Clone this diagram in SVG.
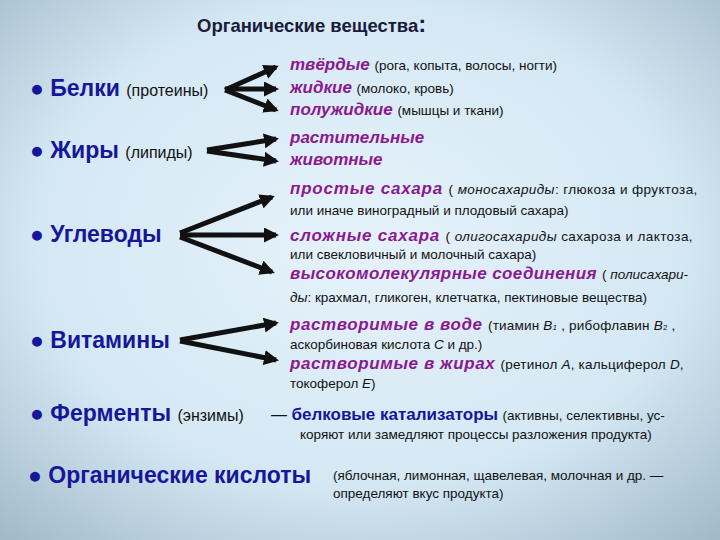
<svg xmlns="http://www.w3.org/2000/svg" width="720" height="540" viewBox="0 0 720 540">
<defs>
<radialGradient id="bg" cx="0.5" cy="0.45" r="0.75">
<stop offset="0" stop-color="#e6f2fa"/><stop offset="0.6" stop-color="#d4e8f4"/><stop offset="1" stop-color="#9fb8c8"/>
</radialGradient>
<marker id="ah" viewBox="0 0 10 10" refX="8" refY="5" markerWidth="3" markerHeight="3" orient="auto" markerUnits="strokeWidth">
<path d="M0,0 L10,5 L0,10 z" fill="#111"/></marker>
<style>
text{font-family:"Liberation Sans",Arial,sans-serif;fill:#111}
.m{font-size:23px;font-weight:bold;fill:#16169a}
.p{font-size:16px}
.h{font-size:17px;font-weight:bold;font-style:italic;fill:#8a1a8e}
.s{font-size:13.5px}
.i{font-style:italic}
.c line{stroke:#111;stroke-width:5;marker-end:url(#ah)}
</style>
</defs>
<rect width="720" height="540" fill="url(#bg)"/>
<text x="197" y="32" style="font-size:18.5px;font-weight:bold;fill:#1a1a3a">Органические вещества<tspan font-size="24">:</tspan></text>
<g class="c">
<line x1="225" y1="90" x2="276" y2="67"/>
<line x1="225" y1="89" x2="276" y2="89"/>
<line x1="225" y1="90" x2="276" y2="110"/>
<line x1="207" y1="150" x2="276" y2="139"/>
<line x1="207" y1="151" x2="276" y2="161"/>
<line x1="180" y1="233" x2="272" y2="197"/>
<line x1="180" y1="235" x2="276" y2="235"/>
<line x1="180" y1="237" x2="272" y2="272"/>
<line x1="180" y1="340" x2="276" y2="323"/>
<line x1="180" y1="341" x2="276" y2="360"/>
</g>
<g id="n-belki"><text x="30" y="96" class="m">● Белки <tspan class="p" font-weight="normal" style="fill:#111">(протеины)</tspan></text></g>
<g id="n-zhiry"><text x="30" y="158" class="m">●  Жиры <tspan class="p" font-weight="normal" style="fill:#111">(липиды)</tspan></text></g>
<g id="n-ugl"><text x="30" y="242" class="m">●  Углеводы</text></g>
<g id="n-vit"><text x="30" y="348" class="m">●  Витамины</text></g>
<g id="n-ferm"><text x="30" y="421" class="m">●  Ферменты <tspan class="p" font-weight="normal" style="fill:#111">(энзимы)</tspan></text>
<text x="271" y="420" class="p">— <tspan style="font-size:17px;font-weight:bold;fill:#16169a">белковые катализаторы</tspan> <tspan class="s">(активны, селективны, ус-</tspan></text>
<text x="300" y="439" class="s">коряют или замедляют процессы разложения продукта)</text></g>
<g id="n-kisl"><text x="28" y="483" class="m">● Органические кислоты</text>
<text x="333" y="480" class="s">(яблочная, лимонная, щавелевая, молочная и др. —</text>
<text x="333" y="498" class="s">определяют вкус продукта)</text></g>
<g id="r-belki">
<text x="290" y="70" class="h">твёрдые <tspan class="s" font-weight="normal" font-style="normal" style="fill:#111">(рога, копыта, волосы, ногти)</tspan></text>
<text x="290" y="93" class="h">жидкие <tspan class="s" font-weight="normal" font-style="normal" style="fill:#111">(молоко, кровь)</tspan></text>
<text x="290" y="115" class="h">полужидкие <tspan class="s" font-weight="normal" font-style="normal" style="fill:#111">(мышцы и ткани)</tspan></text>
</g>
<g id="r-zhiry">
<text x="290" y="143" class="h">растительные</text>
<text x="290" y="165" class="h">животные</text>
</g>
<g id="r-ugl">
<text x="290" y="194" class="h" letter-spacing="0.8">простые сахара <tspan class="s" font-weight="normal" font-style="normal" style="fill:#111" letter-spacing="0.4">( <tspan class="i">моносахариды</tspan>: глюкоза и фруктоза,</tspan></text>
<text x="290" y="215" class="s">или иначе виноградный и плодовый сахара)</text>
<text x="290" y="241" class="h" letter-spacing="0.8">сложные сахара <tspan class="s" font-weight="normal" font-style="normal" style="fill:#111" letter-spacing="0.4">( <tspan class="i">олигосахариды</tspan> сахароза и лактоза,</tspan></text>
<text x="290" y="259" class="s">или свекловичный и молочный сахара)</text>
<text x="290" y="279" class="h" letter-spacing="0.4">высокомолекулярные соединения <tspan class="s" font-weight="normal" font-style="normal" style="fill:#111" letter-spacing="0">( <tspan class="i">полисахари-</tspan></tspan></text>
<text x="290" y="302" class="s"><tspan class="i">ды</tspan>: крахмал, гликоген, клетчатка, пектиновые вещества)</text>
</g>
<g id="r-vit">
<text x="290" y="330" class="h" letter-spacing="0.6">растворимые в воде <tspan class="s" font-weight="normal" font-style="normal" style="fill:#111" letter-spacing="0.2">(тиамин <tspan class="i">B</tspan><tspan class="i" font-size="8">1</tspan> , рибофлавин <tspan class="i">B</tspan><tspan font-size="8">2</tspan> ,</tspan></text>
<text x="290" y="349" class="s">аскорбиновая кислота <tspan class="i">C</tspan> и др.)</text>
<text x="290" y="369" class="h" letter-spacing="0.6">растворимые в жирах <tspan class="s" font-weight="normal" font-style="normal" style="fill:#111" letter-spacing="0.2">(ретинол <tspan class="i">A</tspan>, кальциферол <tspan class="i">D</tspan>,</tspan></text>
<text x="290" y="388" class="s">токоферол <tspan class="i">E</tspan>)</text>
</g>
</svg>
